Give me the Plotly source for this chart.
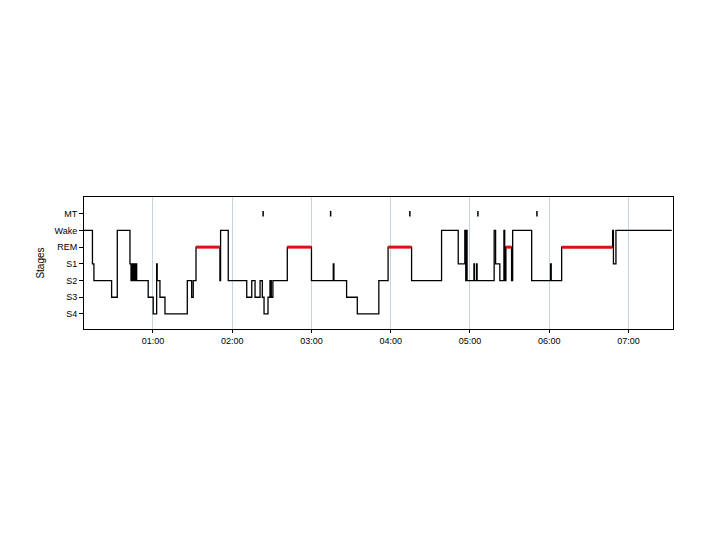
import pandas as pd
import plotly.graph_objects as go

# Stage order from bottom to top of the y axis
stage_order = ["S4", "S3", "S2", "S1", "REM", "Wake", "MT"]

# Hypnogram change points: minutes after midnight and stage entered
change_minutes = [
    7.8, 14.2, 15.3, 28.7, 33.0, 42.6, 43.4, 44.0, 44.8, 45.4, 46.2, 46.8, 47.7,
    56.4, 60.2, 62.8, 63.2, 65.3, 69.1, 86.0, 89.3, 90.5, 92.6, 110.7, 111.2,
    117.0, 131.0, 134.8, 137.3, 141.1, 142.8, 144.1, 147.1, 148.6, 149.6,
    150.8, 161.7, 180.0, 196.5, 197.0, 206.6, 214.7, 231.0, 238.0,
    255.8, 278.5, 291.1, 296.1, 296.8, 297.3, 297.8, 303.0, 303.4, 305.0, 305.4,
    318.3, 319.4, 322.6, 325.7, 326.3, 327.2, 331.5, 332.3, 346.7, 361.0, 361.5,
    369.4, 408.0, 408.6, 410.5, 452.7,
]
change_stages = [
    "Wake", "S1", "S2", "S3", "Wake", "S1", "S2", "S1", "S2", "S1", "S2", "S1", "S2",
    "S3", "S4", "S1", "S2", "S3", "S4", "S2", "S3", "S2", "REM", "S2", "Wake",
    "S2", "S3", "S2", "S3", "S2", "S3", "S4", "S3", "S2", "S3",
    "S2", "REM", "S2", "S1", "S2", "S3", "S4", "S2", "REM",
    "S2", "Wake", "S1", "Wake", "S2", "Wake", "S2", "S1", "S2", "S1", "S2",
    "Wake", "S1", "S2", "Wake", "S2", "REM", "S2", "Wake", "S2", "S1", "S2",
    "REM", "Wake", "S1", "Wake", "Wake",
]

# Movement-time epochs (minutes after midnight)
mt_minutes = [143.4, 194.5, 254.5, 306.0, 350.7]

# Axis window and hour ticks
x_start_min, x_end_min = 7.8, 453.7
tick_hours = ["01:00", "02:00", "03:00", "04:00", "05:00", "06:00", "07:00"]

base = pd.Timestamp("2000-01-01")
to_time = lambda m: base + pd.Timedelta(minutes=m)
stage_val = {s: i for i, s in enumerate(stage_order)}

xs = [to_time(m) for m in change_minutes]
ys = [stage_val[s] for s in change_stages]

# REM segments in red
rem_x, rem_y = [], []
for i, s in enumerate(change_stages[:-1]):
    if s == "REM":
        rem_x += [xs[i], xs[i + 1], None]
        rem_y += [stage_val["REM"], stage_val["REM"], None]

fig = go.Figure()
fig.add_trace(go.Scatter(x=xs, y=ys, mode="lines", line=dict(color="black", width=1.3, shape="hv"),
                         showlegend=False, hoverinfo="skip"))
fig.add_trace(go.Scatter(x=rem_x, y=rem_y, mode="lines", line=dict(color="#dd1111", width=3),
                         showlegend=False, hoverinfo="skip"))
fig.add_trace(go.Scatter(x=[to_time(m) for m in mt_minutes], y=[stage_val["MT"]] * len(mt_minutes),
                         mode="markers", marker=dict(symbol="line-ns-open", size=4, color="black",
                                                     line=dict(color="black", width=1.5)),
                         showlegend=False, hoverinfo="skip"))

tickvals = [base + pd.Timedelta(hours=int(t[:2])) for t in tick_hours]

fig.update_layout(
    width=720, height=540,
    margin=dict(l=76, r=55, t=189, b=219),
    paper_bgcolor="white", plot_bgcolor="white",
    font=dict(family="Liberation Sans, Arial, sans-serif", size=9, color="black"),
)
fig.update_xaxes(
    type="date", range=[to_time(x_start_min), to_time(x_end_min)],
    tickvals=tickvals, ticktext=tick_hours,
    showgrid=True, gridcolor="#c8d4dc", gridwidth=1,
    showline=True, linecolor="black", linewidth=1, mirror=True,
    ticks="outside", ticklen=3, tickcolor="black", zeroline=False,
)
fig.update_yaxes(
    range=[-0.9, 7.0], tickvals=list(range(len(stage_order))), ticktext=stage_order,
    showgrid=False, zeroline=False,
    showline=True, linecolor="black", linewidth=1, mirror=True,
    ticks="outside", ticklen=4, tickcolor="black",
    title=dict(text="Stages", font=dict(size=10), standoff=8),
)

fig.write_html("out.html")
